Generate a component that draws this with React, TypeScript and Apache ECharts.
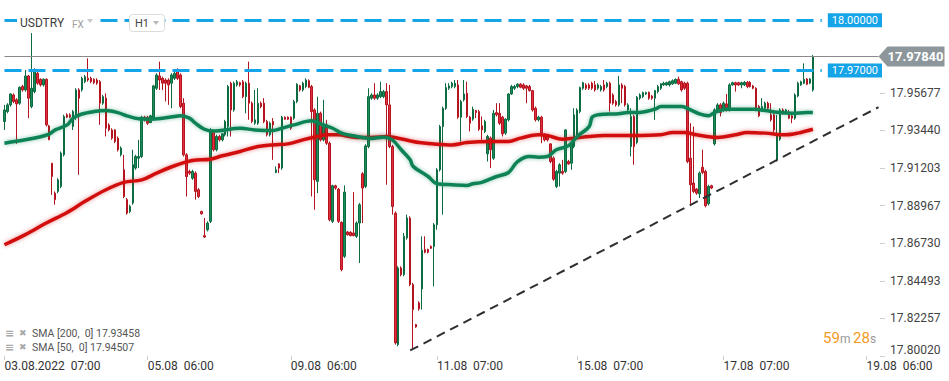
import React, { useEffect, useRef } from 'react';
import * as echarts from 'echarts';

// [open, close, low, high] hourly candles, USDTRY H1
const OHLC: [number, number, number, number][] = [
  [17.9397, 17.9466, 17.9347, 17.9496], [17.9456, 17.9496, 17.9446, 17.9506], [17.9496, 17.9561, 17.9486, 17.9565],
  [17.9555, 17.9516, 17.9506, 17.9565], [17.9526, 17.9502, 17.9264, 17.9536], [17.9506, 17.9601, 17.9496, 17.9605],
  [17.9605, 17.9585, 17.9575, 17.9615], [17.9585, 17.9668, 17.9575, 17.9704], [17.9668, 17.9536, 17.9417, 17.9674],
  [17.9486, 17.9595, 17.9476, 17.9923], [17.9575, 17.9694, 17.9565, 17.9714], [17.9684, 17.9625, 17.9615, 17.9704],
  [17.9648, 17.9615, 17.9605, 17.9654], [17.9615, 17.9648, 17.9605, 17.9654], [17.9648, 17.9377, 17.9367, 17.9654],
  [17.9371, 17.9288, 17.9288, 17.9377], [17.9149, 17.9070, 17.8961, 17.9149], [17.8971, 17.8932, 17.8902, 17.8981],
  [17.8981, 17.9050, 17.8971, 17.9060], [17.9011, 17.9209, 17.9001, 17.9219], [17.9199, 17.9427, 17.9189, 17.9437],
  [17.9437, 17.9423, 17.9417, 17.9446], [17.9437, 17.9423, 17.9417, 17.9446], [17.9367, 17.9456, 17.9347, 17.9466],
  [17.9427, 17.9585, 17.9407, 17.9595], [17.9585, 17.9536, 17.9080, 17.9595], [17.9585, 17.9654, 17.9575, 17.9664],
  [17.9634, 17.9664, 17.9625, 17.9674], [17.9654, 17.9644, 17.9634, 17.9773], [17.9654, 17.9634, 17.9625, 17.9664],
  [17.9648, 17.9628, 17.9619, 17.9654], [17.9644, 17.9625, 17.9615, 17.9654], [17.9634, 17.9506, 17.9377, 17.9644],
  [17.9506, 17.9545, 17.9496, 17.9555], [17.9536, 17.9357, 17.9308, 17.9565], [17.9377, 17.9347, 17.9338, 17.9387],
  [17.9347, 17.9298, 17.9288, 17.9357], [17.9347, 17.9278, 17.9268, 17.9351], [17.9298, 17.9229, 17.9219, 17.9308],
  [17.9199, 17.9239, 17.9189, 17.9249], [17.9110, 17.8951, 17.8941, 17.9199], [17.8932, 17.8852, 17.8843, 17.8942],
  [17.8862, 17.8892, 17.8852, 17.8902], [17.8912, 17.9140, 17.8902, 17.9229], [17.9120, 17.9189, 17.9110, 17.9199],
  [17.9179, 17.9189, 17.9120, 17.9288], [17.9189, 17.9423, 17.9179, 17.9431], [17.9423, 17.9407, 17.9397, 17.9431],
  [17.9423, 17.9387, 17.9377, 17.9431], [17.9391, 17.9431, 17.9387, 17.9437], [17.9417, 17.9609, 17.9407, 17.9615],
  [17.9595, 17.9674, 17.9585, 17.9684], [17.9668, 17.9644, 17.9585, 17.9753], [17.9654, 17.9625, 17.9585, 17.9664],
  [17.9644, 17.9625, 17.9516, 17.9654], [17.9644, 17.9615, 17.9496, 17.9654], [17.9625, 17.9674, 17.9476, 17.9684],
  [17.9654, 17.9684, 17.9644, 17.9694], [17.9694, 17.9654, 17.9644, 17.9714], [17.9674, 17.9486, 17.9476, 17.9684],
  [17.9506, 17.9199, 17.9189, 17.9536], [17.9199, 17.9070, 17.8951, 17.9209], [17.9100, 17.9090, 17.9080, 17.9110],
  [17.9060, 17.9100, 17.9050, 17.9110], [17.9090, 17.8981, 17.8932, 17.9100], [17.8991, 17.8951, 17.8942, 17.9001],
  [17.8862, 17.8848, 17.8843, 17.8866], [17.8718, 17.8710, 17.8704, 17.8823], [17.8753, 17.8793, 17.8743, 17.8803],
  [17.8803, 17.9347, 17.8793, 17.9357], [17.9338, 17.9229, 17.9219, 17.9347], [17.9229, 17.9308, 17.9219, 17.9318],
  [17.9308, 17.9288, 17.9278, 17.9318], [17.9288, 17.9324, 17.9278, 17.9328], [17.9318, 17.9397, 17.9308, 17.9407],
  [17.9367, 17.9605, 17.9308, 17.9615], [17.9625, 17.9466, 17.9308, 17.9634], [17.9466, 17.9625, 17.9456, 17.9634],
  [17.9615, 17.9634, 17.9605, 17.9644], [17.9628, 17.9615, 17.9605, 17.9634], [17.9634, 17.9545, 17.9536, 17.9644],
  [17.9545, 17.9625, 17.9446, 17.9634], [17.9625, 17.9506, 17.9407, 17.9753], [17.9506, 17.9397, 17.9387, 17.9516],
  [17.9387, 17.9407, 17.9377, 17.9585], [17.9387, 17.9506, 17.9377, 17.9595], [17.9506, 17.9486, 17.9476, 17.9516],
  [17.9506, 17.9397, 17.9387, 17.9536], [17.9397, 17.9318, 17.9308, 17.9407], [17.9318, 17.9387, 17.9308, 17.9397],
  [17.9397, 17.9377, 17.9169, 17.9417], [17.9094, 17.9110, 17.9090, 17.9130], [17.9145, 17.9120, 17.9090, 17.9149],
  [17.9120, 17.9423, 17.9110, 17.9431], [17.9423, 17.9411, 17.9407, 17.9427], [17.9423, 17.9411, 17.9407, 17.9427],
  [17.9423, 17.9357, 17.9347, 17.9427], [17.9417, 17.9516, 17.9407, 17.9526], [17.9516, 17.9619, 17.9506, 17.9625],
  [17.9609, 17.9585, 17.9575, 17.9615], [17.9585, 17.9625, 17.9575, 17.9634], [17.9605, 17.9644, 17.9595, 17.9654],
  [17.9640, 17.9601, 17.9595, 17.9648], [17.9605, 17.9456, 17.8951, 17.9615], [17.9466, 17.9050, 17.8872, 17.9476],
  [17.9041, 17.9446, 17.8971, 17.9545], [17.9446, 17.9288, 17.9278, 17.9456], [17.9288, 17.9367, 17.9278, 17.9526],
  [17.9377, 17.9268, 17.9258, 17.9407], [17.9268, 17.8813, 17.8803, 17.9278], [17.8803, 17.9015, 17.8793, 17.9021],
  [17.9015, 17.9001, 17.8991, 17.9021], [17.8995, 17.8803, 17.8793, 17.9001], [17.8797, 17.8516, 17.8506, 17.8803],
  [17.8595, 17.8977, 17.8585, 17.9017], [17.8740, 17.8724, 17.8718, 17.8746], [17.8738, 17.8718, 17.8714, 17.8744],
  [17.8734, 17.8718, 17.8714, 17.8977], [17.8714, 17.8793, 17.8704, 17.8803], [17.8793, 17.8902, 17.8555, 17.8912],
  [17.9086, 17.9001, 17.8793, 17.9096], [17.9011, 17.9252, 17.9001, 17.9262], [17.9248, 17.9545, 17.9238, 17.9595],
  [17.9536, 17.9555, 17.9526, 17.9565], [17.9555, 17.9536, 17.9526, 17.9625], [17.9536, 17.9555, 17.9526, 17.9565],
  [17.9545, 17.9575, 17.9536, 17.9634], [17.9545, 17.9575, 17.9536, 17.9585], [17.9575, 17.9496, 17.9021, 17.9625],
  [17.9496, 17.9248, 17.9238, 17.9615], [17.9248, 17.8892, 17.8843, 17.9258], [17.8852, 17.8080, 17.8070, 17.8862],
  [17.8070, 17.8526, 17.8060, 17.8536], [17.8526, 17.8486, 17.8476, 17.8536], [17.8486, 17.8714, 17.8476, 17.8734],
  [17.8704, 17.8823, 17.8694, 17.8843], [17.8823, 17.8427, 17.8417, 17.8833], [17.8427, 17.8278, 17.8041, 17.8437],
  [17.8189, 17.8175, 17.8170, 17.8193], [17.8318, 17.8282, 17.8272, 17.8328], [17.8401, 17.8631, 17.8278, 17.8714],
  [17.8635, 17.8619, 17.8613, 17.8714], [17.8635, 17.8619, 17.8613, 17.8641], [17.8654, 17.8643, 17.8639, 17.8660],
  [17.8654, 17.8783, 17.8417, 17.8793], [17.8783, 17.9110, 17.8753, 17.9120], [17.9110, 17.9367, 17.9100, 17.9377],
  [17.9367, 17.9476, 17.8843, 17.9486], [17.9476, 17.9599, 17.9466, 17.9625], [17.9595, 17.9609, 17.9585, 17.9625],
  [17.9605, 17.9625, 17.9595, 17.9634], [17.9605, 17.9625, 17.9595, 17.9644], [17.9615, 17.9423, 17.9413, 17.9644],
  [17.9423, 17.9516, 17.9278, 17.9526], [17.9526, 17.9561, 17.9516, 17.9644], [17.9565, 17.9427, 17.9417, 17.9634],
  [17.9423, 17.9387, 17.9338, 17.9431], [17.9411, 17.9470, 17.9401, 17.9486], [17.9462, 17.9450, 17.9417, 17.9466],
  [17.9456, 17.9351, 17.9341, 17.9466], [17.9371, 17.9347, 17.9288, 17.9427], [17.9338, 17.9397, 17.9328, 17.9407],
  [17.9205, 17.9308, 17.9159, 17.9318], [17.9298, 17.9229, 17.9120, 17.9308], [17.9179, 17.9446, 17.9169, 17.9466],
  [17.9450, 17.9437, 17.9427, 17.9506], [17.9446, 17.9387, 17.9377, 17.9506], [17.9423, 17.9324, 17.9308, 17.9431],
  [17.9328, 17.9411, 17.9318, 17.9417], [17.9407, 17.9561, 17.9397, 17.9565], [17.9561, 17.9605, 17.9555, 17.9615],
  [17.9595, 17.9605, 17.9585, 17.9615], [17.9605, 17.9619, 17.9595, 17.9625], [17.9619, 17.9601, 17.9595, 17.9625],
  [17.9615, 17.9595, 17.9585, 17.9625], [17.9609, 17.9595, 17.9506, 17.9615], [17.9605, 17.9581, 17.9575, 17.9615],
  [17.9581, 17.9466, 17.9456, 17.9585], [17.9476, 17.9407, 17.9397, 17.9486], [17.9407, 17.9423, 17.9397, 17.9431],
  [17.9423, 17.9328, 17.9268, 17.9431], [17.9318, 17.9288, 17.9278, 17.9328], [17.9308, 17.9288, 17.9278, 17.9318],
  [17.9264, 17.9159, 17.9149, 17.9268], [17.9179, 17.9054, 17.9044, 17.9189], [17.9011, 17.9100, 17.9001, 17.9110],
  [17.9090, 17.9140, 17.9011, 17.9149], [17.9100, 17.9090, 17.9080, 17.9169], [17.9100, 17.9347, 17.9090, 17.9351],
  [17.9159, 17.9145, 17.9140, 17.9169], [17.9149, 17.9268, 17.9110, 17.9278], [17.9248, 17.9437, 17.9238, 17.9476],
  [17.9298, 17.9466, 17.9288, 17.9476], [17.9456, 17.9599, 17.9446, 17.9605], [17.9595, 17.9628, 17.9585, 17.9634],
  [17.9615, 17.9595, 17.9585, 17.9625], [17.9615, 17.9595, 17.9585, 17.9625], [17.9625, 17.9595, 17.9585, 17.9634],
  [17.9615, 17.9585, 17.9575, 17.9638], [17.9595, 17.9615, 17.9585, 17.9625], [17.9585, 17.9605, 17.9575, 17.9615],
  [17.9615, 17.9585, 17.9575, 17.9644], [17.9605, 17.9625, 17.9595, 17.9634], [17.9625, 17.9506, 17.9456, 17.9634],
  [17.9555, 17.9506, 17.9496, 17.9565], [17.9516, 17.9496, 17.9486, 17.9526], [17.9496, 17.9615, 17.9486, 17.9668],
  [17.9615, 17.9595, 17.9506, 17.9625], [17.9605, 17.9496, 17.9486, 17.9615], [17.9466, 17.9496, 17.9456, 17.9506],
  [17.9248, 17.9427, 17.9189, 17.9476], [17.9427, 17.9248, 17.9140, 17.9437], [17.9272, 17.9541, 17.9262, 17.9549],
  [17.9536, 17.9555, 17.9526, 17.9565], [17.9545, 17.9569, 17.9536, 17.9575], [17.9561, 17.9569, 17.9555, 17.9575],
  [17.9571, 17.9536, 17.9526, 17.9575], [17.9549, 17.9536, 17.9526, 17.9555], [17.9536, 17.9581, 17.9407, 17.9585],
  [17.9575, 17.9605, 17.9565, 17.9615], [17.9595, 17.9621, 17.9585, 17.9625], [17.9615, 17.9625, 17.9609, 17.9634],
  [17.9615, 17.9628, 17.9609, 17.9634], [17.9615, 17.9634, 17.9605, 17.9640], [17.9621, 17.9640, 17.9615, 17.9648],
  [17.9625, 17.9648, 17.9619, 17.9654], [17.9648, 17.9621, 17.9615, 17.9664], [17.9634, 17.9585, 17.9575, 17.9640],
  [17.9625, 17.9595, 17.9585, 17.9634], [17.9625, 17.9159, 17.9149, 17.9634], [17.9179, 17.9021, 17.8902, 17.9387],
  [17.9031, 17.8981, 17.8971, 17.9367], [17.8995, 17.8971, 17.8961, 17.9001], [17.8967, 17.9090, 17.8942, 17.9100],
  [17.9125, 17.9094, 17.9084, 17.9229], [17.9100, 17.8896, 17.8886, 17.9110], [17.8908, 17.9011, 17.8898, 17.9021],
  [17.9015, 17.9001, 17.8995, 17.9021], [17.9264, 17.9466, 17.9254, 17.9476], [17.9466, 17.9496, 17.9456, 17.9506],
  [17.9496, 17.9450, 17.9427, 17.9506], [17.9466, 17.9506, 17.9456, 17.9516], [17.9502, 17.9466, 17.9456, 17.9561],
  [17.9466, 17.9615, 17.9456, 17.9625], [17.9615, 17.9628, 17.9609, 17.9634], [17.9628, 17.9615, 17.9575, 17.9634],
  [17.9628, 17.9615, 17.9609, 17.9634], [17.9615, 17.9628, 17.9595, 17.9634], [17.9615, 17.9630, 17.9609, 17.9638],
  [17.9630, 17.9605, 17.9595, 17.9638], [17.9630, 17.9605, 17.9599, 17.9638], [17.9609, 17.9595, 17.9589, 17.9615],
  [17.9595, 17.9476, 17.9466, 17.9601], [17.9486, 17.9431, 17.9423, 17.9496], [17.9466, 17.9486, 17.9456, 17.9536],
  [17.9476, 17.9506, 17.9466, 17.9516], [17.9506, 17.9476, 17.9466, 17.9516], [17.9437, 17.9407, 17.9397, 17.9506],
  [17.9437, 17.9347, 17.9328, 17.9446], [17.9169, 17.9318, 17.9159, 17.9437], [17.9292, 17.9466, 17.9282, 17.9476],
  [17.9466, 17.9446, 17.9437, 17.9476], [17.9450, 17.9466, 17.9441, 17.9472], [17.9437, 17.9417, 17.9411, 17.9466],
  [17.9431, 17.9417, 17.9387, 17.9437], [17.9417, 17.9555, 17.9407, 17.9565], [17.9549, 17.9625, 17.9541, 17.9634],
  [17.9615, 17.9634, 17.9609, 17.9640], [17.9625, 17.9648, 17.9619, 17.9743], [17.9650, 17.9619, 17.9613, 17.9656],
  [17.9625, 17.9650, 17.9619, 17.9656], [17.9585, 17.9784, 17.9575, 17.9793],
];

// SMA readings: [candle index, value]
const SMA200: [number, number][] = [
  [0, 17.8664], [7, 17.8724], [14, 17.8793], [21, 17.8856], [27, 17.8922], [34, 17.8991], [40, 17.9035],
  [46, 17.9050], [51, 17.9090], [57, 17.9134], [63, 17.9165], [69, 17.9173], [73, 17.9193], [79, 17.9219],
  [84, 17.9244], [90, 17.9258], [95, 17.9264], [100, 17.9288], [105, 17.9308], [108, 17.9318], [112, 17.9318],
  [117, 17.9304], [123, 17.9302], [128, 17.9308], [132, 17.9298], [137, 17.9278], [139, 17.9272], [145, 17.9262],
  [150, 17.9258], [155, 17.9272], [163, 17.9278], [169, 17.9278], [173, 17.9298], [179, 17.9318], [182, 17.9314],
  [187, 17.9292], [191, 17.9298], [196, 17.9308], [201, 17.9314], [211, 17.9314], [220, 17.9318], [224, 17.9332],
  [228, 17.9332], [232, 17.9318], [239, 17.9302], [245, 17.9318], [249, 17.9332], [255, 17.9328], [262, 17.9318],
  [266, 17.9328], [271, 17.9351],
];
const SMA50: [number, number][] = [
  [0, 17.9268], [7, 17.9288], [11, 17.9302], [15, 17.9322], [17, 17.9347], [21, 17.9377], [23, 17.9417],
  [26, 17.9442], [30, 17.9456], [34, 17.9462], [38, 17.9450], [41, 17.9431], [45, 17.9413], [49, 17.9411],
  [53, 17.9417], [57, 17.9427], [59, 17.9431], [62, 17.9417], [64, 17.9387], [67, 17.9351], [70, 17.9340],
  [79, 17.9357], [84, 17.9347], [90, 17.9343], [93, 17.9357], [97, 17.9377], [103, 17.9401], [106, 17.9383],
  [110, 17.9357], [113, 17.9328], [117, 17.9312], [123, 17.9296], [127, 17.9304], [130, 17.9288], [133, 17.9229],
  [136, 17.9169], [137, 17.9130], [142, 17.9070], [145, 17.9027], [150, 17.9021], [155, 17.9017], [157, 17.9027],
  [160, 17.9035], [165, 17.9070], [169, 17.9094], [172, 17.9159], [176, 17.9189], [179, 17.9185], [182, 17.9189],
  [185, 17.9229], [189, 17.9252], [192, 17.9308], [196, 17.9367], [197, 17.9423], [199, 17.9437], [203, 17.9442],
  [205, 17.9442], [209, 17.9450], [212, 17.9450], [218, 17.9470], [220, 17.9486], [227, 17.9486], [230, 17.9466],
  [233, 17.9442], [236, 17.9431], [238, 17.9450], [242, 17.9470], [251, 17.9470], [255, 17.9462], [260, 17.9450],
  [264, 17.9446], [269, 17.9450], [271, 17.9450],
];

const Y_TICKS = [17.8002, 17.82257, 17.84493, 17.8673, 17.88967, 17.91203, 17.9344, 17.95677];
const X_TICK_INDEX = [0, 48, 96, 145, 192, 241, 289];
const X_TICK_LABELS = ['03.08.2022  07:00', '05.08  06:00', '09.08  06:00', '11.08  07:00', '15.08  07:00', '17.08  07:00', '19.08  06:00'];
const LEVELS = [18.0, 17.97];
const TREND: [number, number][] = [[136, 17.8035], [293, 17.9482]];
const SMA_LEGEND = ['SMA [200,  0] 17.93458', 'SMA [50,  0] 17.94507'];
const N_SLOTS = 294;
const LEVEL_END = 274;

export default function App() {
  const ref = useRef<HTMLDivElement>(null);
  useEffect(() => {
    const chart = echarts.init(ref.current!, null, { renderer: 'svg' });
    const cats = Array.from({ length: N_SLOTS }, (_, i) => String(i));
    const lastPrice = OHLC[OHLC.length - 1][1];
    const font = 'Roboto';
    const blue = '#15a4e7';
    const levelLines = LEVELS.map((lv) => [
      {
        coord: [0, lv],
        lineStyle: { color: blue, width: 3, type: [17, 7] },
        label: {
          show: true, position: 'end', distance: 6, formatter: lv.toFixed(5), color: '#fff',
          backgroundColor: blue, padding: [2, 4, 1, 4], fontSize: 11, fontFamily: font,
        },
      },
      { coord: [LEVEL_END, lv] },
    ]);
    const option: any = {
      animation: false,
      grid: { left: 3, right: 69, top: 0, bottom: 25 },
      xAxis: {
        type: 'category', data: cats, boundaryGap: true,
        axisLine: { show: false },
        axisTick: { show: true, alignWithLabel: true, length: 4, interval: (i: number) => X_TICK_INDEX.includes(i), lineStyle: { color: '#cccccc' } },
        axisLabel: {
          interval: (i: number) => X_TICK_INDEX.includes(i),
          formatter: (_v: string, i: number) => { const k = X_TICK_INDEX.indexOf(i); return k >= 0 ? X_TICK_LABELS[k] : ''; },
          align: 'left', color: '#333', fontSize: 12, margin: 4, fontFamily: font,
        },
        splitLine: { show: false },
      },
      yAxis: {
        type: 'value', position: 'right', min: 17.8002, max: 18.012,
        splitLine: { show: false }, axisLine: { show: false },
        axisTick: { show: true, length: 5, lineStyle: { color: '#d0d0d0' }, customValues: Y_TICKS },
        axisLabel: {
          customValues: Y_TICKS, formatter: (v: number) => v.toFixed(5), color: '#444', fontSize: 12,
          margin: 10, fontFamily: font, verticalAlignMinLabel: 'bottom',
        },
      },
      series: [
        {
          type: 'candlestick', data: OHLC, barWidth: 2,
          itemStyle: { color: '#1e8c5a', color0: '#e2303c', borderColor: '#0c6b40', borderColor0: '#b3141f', borderWidth: 1 },
          markLine: {
            symbol: ['none', 'none'], silent: true, animation: false,
            data: [
              ...levelLines,
              [
                { coord: [0, lastPrice], lineStyle: { color: '#8a8a8a', width: 1, type: 'solid' }, label: { show: false } },
                { coord: [N_SLOTS - 1, lastPrice] },
              ],
              [
                { coord: TREND[0], lineStyle: { color: '#2d3033', width: 2, type: [9, 6] }, label: { show: false } },
                { coord: TREND[1] },
              ],
            ],
          },
          markPoint: {
            silent: true, animation: false,
            symbol: 'path://M0,10 L9,0 L66,0 L66,20 L9,20 Z', symbolSize: [66, 20], symbolOffset: [33, 0],
            itemStyle: { color: '#8d969a' },
            label: { show: true, position: 'inside', offset: [4, 0], color: '#fff', fontSize: 13, fontWeight: 'bold', fontFamily: font, formatter: lastPrice.toFixed(5) },
            data: [{ coord: [N_SLOTS - 1, lastPrice] }],
            z: 20,
          },
          z: 2,
        },
        {
          type: 'line', data: SMA200, smooth: 0.35, showSymbol: false, silent: true,
          lineStyle: { color: '#d10f0f', width: 3.5, shadowColor: 'rgba(209,15,15,0.45)', shadowBlur: 4 }, z: 3,
        },
        {
          type: 'line', data: SMA50, smooth: 0.35, showSymbol: false, silent: true,
          lineStyle: { color: '#0e8255', width: 3.5, shadowColor: 'rgba(14,130,85,0.45)', shadowBlur: 4 }, z: 3,
        },
      ],
      graphic: [
        { type: 'rect', z: 100, shape: { x: 17, y: 13, width: 80, height: 17 }, style: { fill: '#fff' } },
        { type: 'text', z: 101, x: 20, y: 23, style: { text: 'USDTRY', fill: '#3c3c3c', font: '12px Roboto', verticalAlign: 'middle' } },
        { type: 'text', z: 101, x: 72, y: 24, style: { text: 'FX', fill: '#a0a0a0', font: '10px Roboto', verticalAlign: 'middle' } },
        { type: 'polygon', z: 101, shape: { points: [[87, 19], [93, 19], [90, 23]] }, style: { fill: '#c8c8c8' } },
        { type: 'rect', z: 100, shape: { x: 129.5, y: 14.5, width: 35, height: 17, r: 3 }, style: { fill: '#fff', stroke: '#dcdcdc', lineWidth: 1 } },
        { type: 'text', z: 101, x: 135, y: 23, style: { text: 'H1', fill: '#444', font: '11px Roboto', verticalAlign: 'middle' } },
        { type: 'polygon', z: 101, shape: { points: [[153, 21], [159, 21], [156, 25]] }, style: { fill: '#b8b8b8' } },
        ...SMA_LEGEND.flatMap((t, k) => [
          { type: 'text', z: 101, x: 5, y: 333 + k * 14, style: { text: '≡', fill: '#a8a8a8', font: 'bold 11px "DejaVu Sans"', verticalAlign: 'middle' } },
          { type: 'text', z: 101, x: 19, y: 333 + k * 14, style: { text: '✖', fill: '#a8a8a8', font: '9px "DejaVu Sans"', verticalAlign: 'middle' } },
          { type: 'text', z: 101, x: 32, y: 333 + k * 14, style: { text: t, fill: '#555', font: '10.5px Roboto', verticalAlign: 'middle' } },
        ]),
        { type: 'text', z: 101, x: 823, y: 338, style: { text: '59', fill: '#f39a1e', font: '15px Roboto', verticalAlign: 'middle' } },
        { type: 'text', z: 101, x: 840, y: 339, style: { text: 'm', fill: '#999', font: '12px Roboto', verticalAlign: 'middle' } },
        { type: 'text', z: 101, x: 853, y: 338, style: { text: '28', fill: '#f39a1e', font: '15px Roboto', verticalAlign: 'middle' } },
        { type: 'text', z: 101, x: 870, y: 339, style: { text: 's', fill: '#999', font: '12px Roboto', verticalAlign: 'middle' } },
      ],
    };
    chart.setOption(option);
    return () => chart.dispose();
  }, []);
  return <div ref={ref} style={{ position: 'fixed', left: 0, top: 0, width: 949, height: 381, background: '#fff' }} />;
}
